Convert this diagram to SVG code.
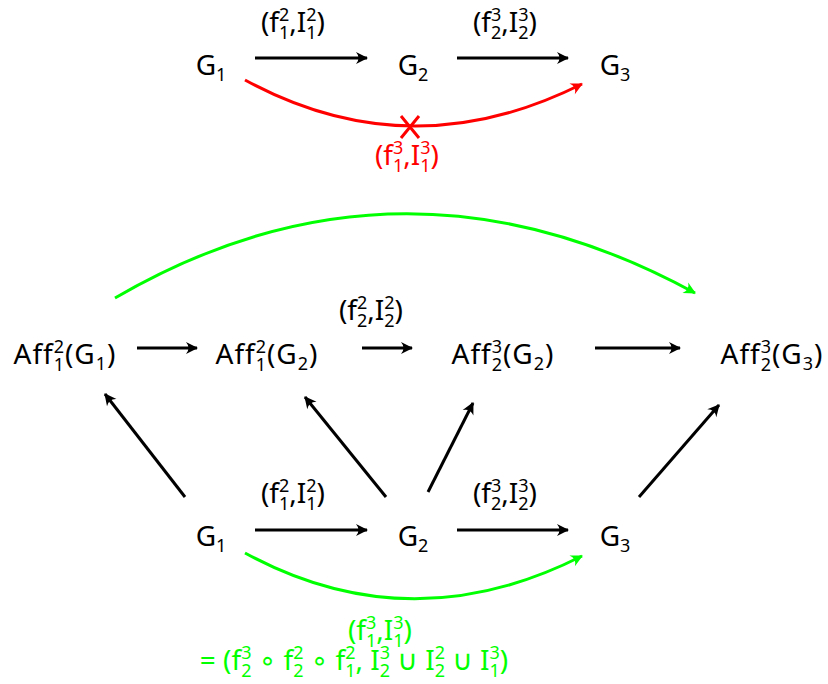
<svg xmlns="http://www.w3.org/2000/svg" width="828" height="684" viewBox="0 0 828 684">
<style>
text{font-family:"Noto Sans","DejaVu Sans",sans-serif;font-size:28px;fill:#000;text-anchor:middle}
.s{font-size:18px}
.red{fill:#ff0000}
.grn{fill:#00ff00}
.e{fill:none;stroke:#000;stroke-width:3}
.er{fill:none;stroke:#ff0000;stroke-width:3}
.eg{fill:none;stroke:#00ff00;stroke-width:3}
</style>
<defs>
<marker id="ab" viewBox="-12 -7 14 14" refX="0" refY="0" markerWidth="14" markerHeight="14" markerUnits="userSpaceOnUse" orient="auto"><path d="M1,0 L-11,-6 Q-6,0 -11,6 Z" fill="#000"/></marker>
<marker id="ar" viewBox="-12 -7 14 14" refX="0" refY="0" markerWidth="14" markerHeight="14" markerUnits="userSpaceOnUse" orient="auto"><path d="M1,0 L-11,-6 Q-6,0 -11,6 Z" fill="#ff0000"/></marker>
<marker id="ag" viewBox="-12 -7 14 14" refX="0" refY="0" markerWidth="14" markerHeight="14" markerUnits="userSpaceOnUse" orient="auto"><path d="M1,0 L-11,-6 Q-6,0 -11,6 Z" fill="#00ff00"/></marker>
</defs>

<g id="connectors">
<line class="e" x1="255" y1="58" x2="367" y2="58" marker-end="url(#ab)"/>
<line class="e" x1="457" y1="58" x2="568" y2="58" marker-end="url(#ab)"/>
<path class="er" d="M245,80 Q410,170 582,84" marker-end="url(#ar)"/>
<path d="M401,116 L419,138 M419,116 L401,138" stroke="#ff0000" stroke-width="3" fill="none"/>
<path class="eg" d="M115,298 Q400,132 695,293" marker-end="url(#ag)"/>
<line class="e" x1="137" y1="348" x2="197" y2="348" marker-end="url(#ab)"/>
<line class="e" x1="362" y1="348" x2="412" y2="348" marker-end="url(#ab)"/>
<line class="e" x1="595" y1="348" x2="680" y2="348" marker-end="url(#ab)"/>
<line class="e" x1="185" y1="497" x2="105" y2="394" marker-end="url(#ab)"/>
<line class="e" x1="386" y1="497" x2="305" y2="397" marker-end="url(#ab)"/>
<line class="e" x1="428" y1="492" x2="473" y2="403" marker-end="url(#ab)"/>
<line class="e" x1="639" y1="497" x2="719" y2="405" marker-end="url(#ab)"/>
<line class="e" x1="255" y1="530" x2="367" y2="530" marker-end="url(#ab)"/>
<line class="e" x1="457" y1="530" x2="568" y2="530" marker-end="url(#ab)"/>
<path class="eg" d="M245,553 Q410,643 582,556" marker-end="url(#ag)"/>
</g>

<g id="top-G1"><text x="211" y="75">G<tspan class="s" dy="6">1</tspan></text></g>
<g id="top-G2"><text x="413" y="75">G<tspan class="s" dy="6">2</tspan></text></g>
<g id="top-G3"><text x="615" y="75">G<tspan class="s" dy="6">3</tspan></text></g>

<g id="top-label-12"><text x="293" y="32">(f<tspan class="s" dy="-11">2</tspan><tspan class="s" dx="-10.3" dy="18">1</tspan><tspan dy="-7">,I</tspan><tspan class="s" dy="-11">2</tspan><tspan class="s" dx="-10.3" dy="18">1</tspan><tspan dy="-7">)</tspan></text></g>
<g id="top-label-23"><text x="505" y="32">(f<tspan class="s" dy="-11">3</tspan><tspan class="s" dx="-10.3" dy="18">2</tspan><tspan dy="-7">,I</tspan><tspan class="s" dy="-11">3</tspan><tspan class="s" dx="-10.3" dy="18">2</tspan><tspan dy="-7">)</tspan></text></g>
<g id="top-label-13"><text class="red" x="407" y="165">(f<tspan class="s" dy="-11">3</tspan><tspan class="s" dx="-10.3" dy="18">1</tspan><tspan dy="-7">,I</tspan><tspan class="s" dy="-11">3</tspan><tspan class="s" dx="-10.3" dy="18">1</tspan><tspan dy="-7">)</tspan></text></g>

<g id="aff-1-G1"><text x="65" y="364" letter-spacing="1">Aff<tspan class="s" dy="-11">2</tspan><tspan class="s" dx="-11.3" dy="18">1</tspan><tspan dy="-7">(G</tspan><tspan class="s" dy="6">1</tspan><tspan dy="-6">)</tspan></text></g>
<g id="aff-1-G2"><text x="267" y="364" letter-spacing="1">Aff<tspan class="s" dy="-11">2</tspan><tspan class="s" dx="-11.3" dy="18">1</tspan><tspan dy="-7">(G</tspan><tspan class="s" dy="6">2</tspan><tspan dy="-6">)</tspan></text></g>
<g id="aff-2-G2"><text x="503" y="364" letter-spacing="1">Aff<tspan class="s" dy="-11">3</tspan><tspan class="s" dx="-11.3" dy="18">2</tspan><tspan dy="-7">(G</tspan><tspan class="s" dy="6">2</tspan><tspan dy="-6">)</tspan></text></g>
<g id="aff-2-G3"><text x="772" y="364" letter-spacing="1">Aff<tspan class="s" dy="-11">3</tspan><tspan class="s" dx="-11.3" dy="18">2</tspan><tspan dy="-7">(G</tspan><tspan class="s" dy="6">3</tspan><tspan dy="-6">)</tspan></text></g>
<g id="mid-label-22"><text x="371" y="320">(f<tspan class="s" dy="-11">2</tspan><tspan class="s" dx="-10.3" dy="18">2</tspan><tspan dy="-7">,I</tspan><tspan class="s" dy="-11">2</tspan><tspan class="s" dx="-10.3" dy="18">2</tspan><tspan dy="-7">)</tspan></text></g>

<g id="bot-G1"><text x="211" y="546">G<tspan class="s" dy="6">1</tspan></text></g>
<g id="bot-G2"><text x="413" y="546">G<tspan class="s" dy="6">2</tspan></text></g>
<g id="bot-G3"><text x="615" y="546">G<tspan class="s" dy="6">3</tspan></text></g>
<g id="bot-label-12"><text x="293" y="503">(f<tspan class="s" dy="-11">2</tspan><tspan class="s" dx="-10.3" dy="18">1</tspan><tspan dy="-7">,I</tspan><tspan class="s" dy="-11">2</tspan><tspan class="s" dx="-10.3" dy="18">1</tspan><tspan dy="-7">)</tspan></text></g>
<g id="bot-label-23"><text x="505" y="503">(f<tspan class="s" dy="-11">3</tspan><tspan class="s" dx="-10.3" dy="18">2</tspan><tspan dy="-7">,I</tspan><tspan class="s" dy="-11">3</tspan><tspan class="s" dx="-10.3" dy="18">2</tspan><tspan dy="-7">)</tspan></text></g>
<g id="bot-label-13">
<text class="grn" x="380" y="640">(f<tspan class="s" dy="-11">3</tspan><tspan class="s" dx="-10.3" dy="18">1</tspan><tspan dy="-7">,I</tspan><tspan class="s" dy="-11">3</tspan><tspan class="s" dx="-10.3" dy="18">1</tspan><tspan dy="-7">)</tspan></text>
<text class="grn" x="354" y="670">= (f<tspan class="s" dy="-11">3</tspan><tspan class="s" dx="-10.3" dy="18">2</tspan><tspan dy="-7"> ∘ f</tspan><tspan class="s" dy="-11">2</tspan><tspan class="s" dx="-10.3" dy="18">2</tspan><tspan dy="-7"> ∘ f</tspan><tspan class="s" dy="-11">2</tspan><tspan class="s" dx="-10.3" dy="18">1</tspan><tspan dy="-7">, I</tspan><tspan class="s" dy="-11">3</tspan><tspan class="s" dx="-10.3" dy="18">2</tspan><tspan dy="-7"> ∪ I</tspan><tspan class="s" dy="-11">2</tspan><tspan class="s" dx="-10.3" dy="18">2</tspan><tspan dy="-7"> ∪ I</tspan><tspan class="s" dy="-11">3</tspan><tspan class="s" dx="-10.3" dy="18">1</tspan><tspan dy="-7">)</tspan></text>
</g>
</svg>
